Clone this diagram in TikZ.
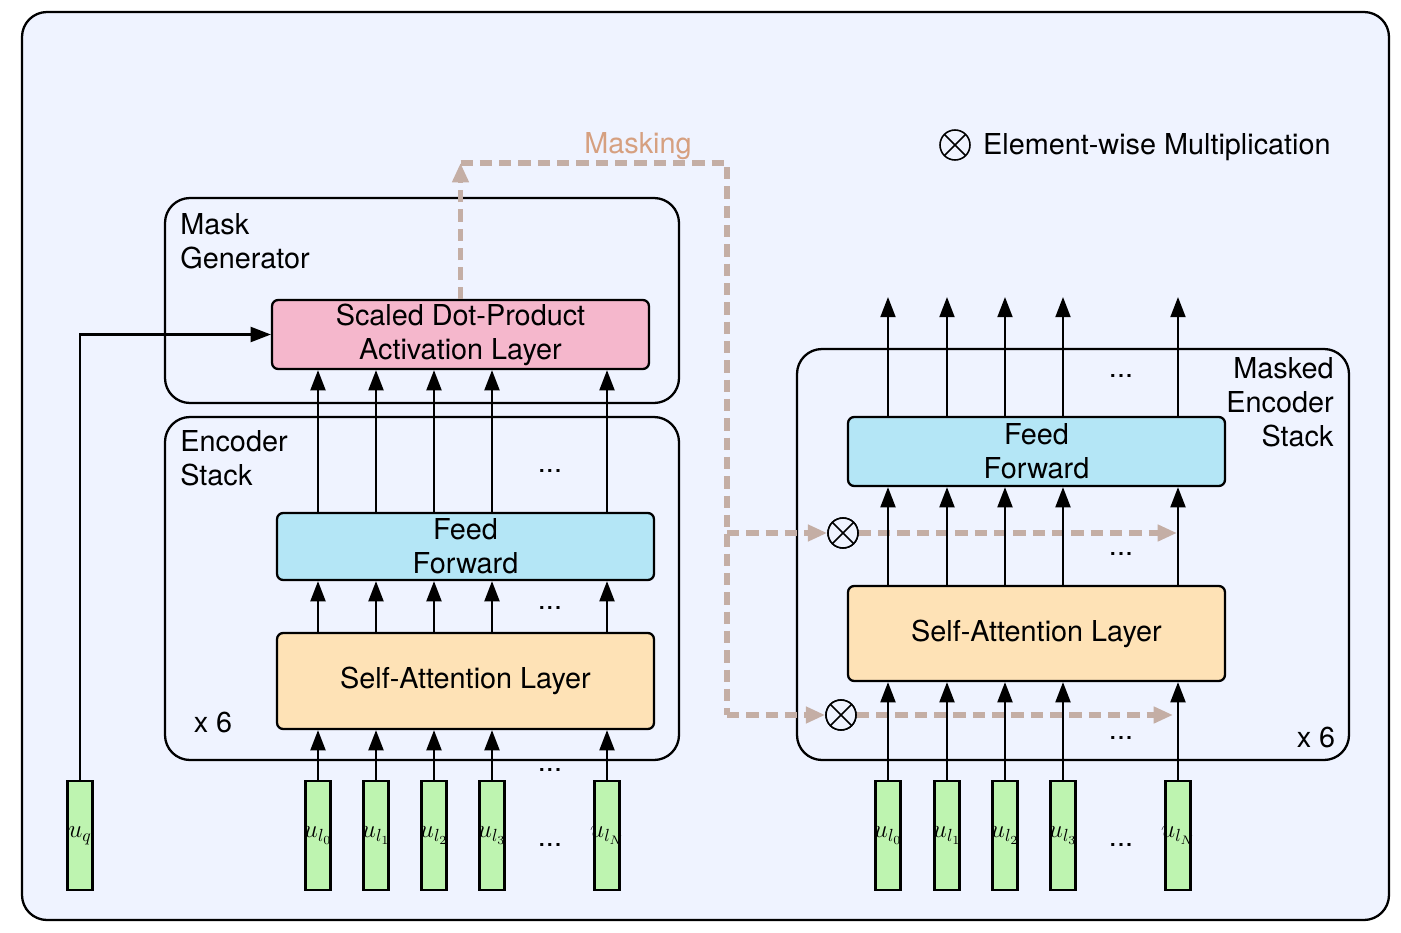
\documentclass[tikz,border=0pt]{standalone}
\usepackage{fontspec}
\setmainfont{TeX Gyre Heros}
\usetikzlibrary{arrows.meta}

\definecolor{bgblue}{RGB}{239,243,255}
\definecolor{sdppink}{RGB}{245,183,204}
\definecolor{ffblue}{RGB}{180,230,246}
\definecolor{saorange}{RGB}{254,226,182}
\definecolor{bargreen}{RGB}{190,244,176}
\definecolor{maskline}{RGB}{196,174,165}
\definecolor{masktext}{RGB}{214,160,128}

\begin{document}
\begin{tikzpicture}[x=0.02cm,y=-0.02cm,font=\fontsize{16.4}{19.4}\selectfont,
    layerbox/.style={draw,line width=1.3pt,rounded corners=3.5pt,minimum width=7.54cm,align=center,inner sep=0pt},
    inbar/.style={draw,line width=1.3pt,fill=bargreen,minimum width=0.5cm,minimum height=2.18cm,inner sep=0pt,font=\fontsize{14.4}{16}\selectfont},
    arr/.style={line width=1.3pt,-{Triangle[length=11.5pt,width=8.5pt]}},
    maskpath/.style={line width=3.2pt,draw=maskline,dash pattern=on 7pt off 4pt},
    masktip/.style={-{Triangle[length=11pt,width=9pt,fill=maskline,color=maskline]}},
    otimes/.style={circle,draw,line width=0.9pt,minimum size=0.6cm,inner sep=0pt,fill=bgblue,
        path picture={\draw[line width=0.9pt] (path picture bounding box.north west) -- (path picture bounding box.south east)
            (path picture bounding box.north east) -- (path picture bounding box.south west);}}]

    \useasboundingbox (0,0) rectangle (1401,933);

    % Outer frame and the two stacks
    \draw[line width=1.3pt,fill=bgblue,rounded corners=0.5cm] (22,12) rectangle (1389,920);
    \draw[line width=1.3pt,rounded corners=0.5cm] (165,198) rectangle (679,403);
    \draw[line width=1.3pt,rounded corners=0.5cm] (165,417) rectangle (679,760);
    \draw[line width=1.3pt,rounded corners=0.5cm] (797,349) rectangle (1349,760);

    % Box names
    \node[anchor=north west,align=left,inner sep=0pt] (mgname) at (180,213) {Mask\\Generator};
    \node[anchor=north west,align=left,inner sep=0pt] (esname) at (180,430) {Encoder\\Stack};
    \node[anchor=north east,align=right,inner sep=0pt] (mename) at (1334,357) {Masked\\Encoder\\Stack};
    \node (sixl) at (213,722) {x 6};
    \node (sixr) at (1316,737) {x 6};

    % Layers
    \node[layerbox,fill=sdppink,minimum height=1.38cm] (sdp) at (460.5,334.5) {Scaled Dot-Product\\Activation Layer};
    \node[layerbox,fill=ffblue,minimum height=1.34cm] (ffl) at (465.5,546.5) {Feed\\Forward};
    \node[layerbox,fill=saorange,minimum height=1.92cm] (sal) at (465.5,681) {Self-Attention Layer};
    \node[layerbox,fill=ffblue,minimum height=1.38cm] (ffr) at (1036.5,451.5) {Feed\\Forward};
    \node[layerbox,fill=saorange,minimum height=1.90cm] (sar) at (1036.5,633.5) {Self-Attention Layer};

    % Inputs
    \node[inbar] (uq) at (80,835.5) {\makebox[0pt]{$u_q$}};
    \foreach \i/\x/\s in {0/318/0,1/376/1,2/434/2,3/492/3,4/607/N}
        \node[inbar] (el\i) at (\x,835.5) {\makebox[0pt]{$u_{l_\s}$}};
    \foreach \i/\x/\s in {0/888/0,1/947/1,2/1005/2,3/1063/3,4/1178/N}
        \node[inbar] (er\i) at (\x,835.5) {\makebox[0pt]{$u_{l_\s}$}};

    % Masking path
    \coordinate (mtop) at (460.5,163);
    \coordinate (mcorner) at (727,163);
    \coordinate (mmid) at (727,533);
    \coordinate (mbot) at (727,715);
    \coordinate (mend1) at (1177,533);
    \coordinate (mend2) at (1173,715);
    \node[otimes] (ox1) at (843,533) {};
    \node[otimes] (ox2) at (841,715) {};
    \draw[maskpath,masktip] (sdp.north) -- (mtop);
    \draw[maskpath] (mtop) -- (mcorner) -- (mbot);
    \draw[maskpath,masktip] (mmid) -- (ox1.west);
    \draw[maskpath,masktip] (mbot) -- (ox2.west);
    \draw[maskpath,masktip] (ox1.east) -- (mend1);
    \draw[maskpath,masktip] (ox2.east) -- (mend2);
    \node[otimes] at (ox1) {};
    \node[otimes] at (ox2) {};
    \node[text=masktext] (masking) at (638,146) {Masking};

    % Legend
    \node[otimes] (oxleg) at (955,145) {};
    \node[anchor=west] (legtext) at (977,147) {Element-wise Multiplication};

    % Left connections
    \draw[arr] (uq.north) |- (sdp.west);
    \foreach \i in {0,...,4} {
        \draw[arr] (el\i.north) -- (el\i.north |- sal.south);
        \draw[arr] (el\i.north |- sal.north) -- (el\i.north |- ffl.south);
        \draw[arr] (el\i.north |- ffl.north) -- (el\i.north |- sdp.south);
    }

    % Right connections
    \coordinate (outtop) at (1000,297);
    \foreach \i in {0,...,4} {
        \draw[arr] (er\i.north) -- (er\i.north |- sar.south);
        \draw[arr] (er\i.north |- sar.north) -- (er\i.north |- ffr.south);
        \draw[arr] (er\i.north |- ffr.north) -- (er\i.north |- outtop);
    }

    % Dots
    \node (dl1) at (550,471) {...};
    \node (dl2) at (550,608) {...};
    \node (dl3) at (550,770) {...};
    \node (dl4) at (550,845) {...};
    \node (dr1) at (1121,376) {...};
    \node (dr2) at (1121,554) {...};
    \node (dr3) at (1121,738) {...};
    \node (dr4) at (1121,845) {...};
\end{tikzpicture}
\end{document}
